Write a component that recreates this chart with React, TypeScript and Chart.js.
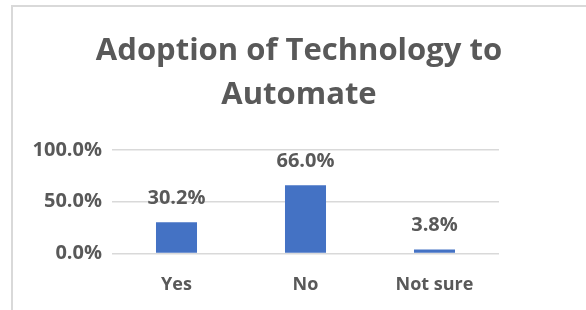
import React, { useEffect, useRef } from "react";
import { Chart, registerables } from "chart.js";

Chart.register(...registerables);

const categories = ["Yes", "No", "Not sure"];
const values = [30.2, 66.0, 3.8];
const yTicks = [0, 50, 100];
const titleLines = ["Adoption of Technology to", "Automate"];

const FONT = "'Open Sans', sans-serif";
const TEXT = "#595959";

const dataLabels = {
  id: "dataLabels",
  afterDatasetsDraw(chart: any) {
    const ctx = chart.ctx;
    const meta = chart.getDatasetMeta(0);
    ctx.save();
    ctx.font = `bold 20px ${FONT}`;
    ctx.fillStyle = TEXT;
    ctx.textAlign = "center";
    ctx.textBaseline = "alphabetic";
    meta.data.forEach((bar: any, i: number) => {
      ctx.fillText(values[i].toFixed(1) + "%", bar.x, bar.y - 18);
    });
    ctx.restore();
  },
};

export default function App() {
  const ref = useRef<HTMLCanvasElement>(null);
  useEffect(() => {
    if (!ref.current) return;
    const chart = new Chart(ref.current, {
      type: "bar",
      data: {
        labels: categories,
        datasets: [
          {
            data: values,
            backgroundColor: "#4472C4",
            categoryPercentage: 1,
            barPercentage: 0.318,
            yAxisID: "y",
          },
        ],
      },
      options: {
        animation: false,
        responsive: false,
        maintainAspectRatio: false,
        layout: { padding: { left: 0, right: 0, top: 0, bottom: 8 } },
        plugins: {
          legend: { display: false },
          tooltip: { enabled: false },
          title: {
            display: true,
            text: titleLines,
            color: TEXT,
            font: { family: FONT, size: 31, weight: "bold", lineHeight: 1.42 },
            padding: { top: 22, bottom: 33 },
          },
        },
        scales: {
          x: {
            grid: { display: false },
            border: { display: false },
            ticks: {
              color: TEXT,
              font: { family: FONT, size: 18, weight: "bold" },
              padding: 13,
            },
          },
          y: {
            min: 0,
            max: 100,
            afterBuildTicks: (scale: any) => {
              scale.ticks = yTicks.map((v) => ({ value: v }));
            },
            afterFit: (scale: any) => {
              scale.width = 99;
            },
            grid: { color: "#d9d9d9", lineWidth: 1.5, drawTicks: false },
            border: { display: false },
            ticks: {
              color: TEXT,
              font: { family: FONT, size: 20, weight: "bold" },
              padding: 10,
              callback: (v: any) => Number(v).toFixed(1) + "%",
            },
          },
          spacer: {
            type: "linear",
            position: "right",
            display: true,
            grid: { display: false, drawTicks: false },
            border: { display: false },
            ticks: { display: false },
            afterFit: (scale: any) => {
              scale.width = 86;
            },
          },
        },
      },
      plugins: [dataLabels],
    });
    return () => chart.destroy();
  }, []);
  return (
    <div
      style={{
        position: "fixed",
        left: 11,
        top: 5,
        width: 580,
        height: 320,
        borderLeft: "2px solid #d9d9d9",
        borderTop: "2px solid #d9d9d9",
        background: "#fff",
      }}
    >
      <canvas ref={ref} width={572} height={310} style={{ display: "block" }} />
    </div>
  );
}
